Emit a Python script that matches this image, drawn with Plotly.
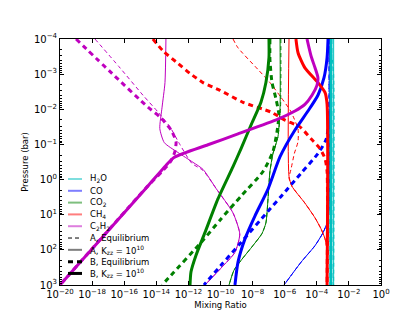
import plotly.graph_objects as go

# ---- data (log10 of mixing ratio, log10 of pressure in bar) ----
H2O_A_eq_logx = [-3.15, -3.05, -2.95, -2.95]
H2O_A_eq_logp = [-4.0, -3.5, -3.0, 3.0]
H2O_A_kzz_logx = [-2.95, -2.95]
H2O_A_kzz_logp = [-4.0, 3.0]
H2O_B_eq_logx = [-3.12, -3.12]
H2O_B_eq_logp = [-4.0, 3.0]
H2O_B_kzz_logx = [-3.12, -3.12]
H2O_B_kzz_logp = [-4.0, 3.0]

CO_A_eq_logx = [-3.20, -3.24, -3.24, -3.36, -3.61, -4.11, -4.98, -6.04]
CO_A_eq_logp = [-4.0, -2.0, 0.89, 1.23, 1.51, 1.88, 2.35, 3.0]
CO_A_kzz_logx = [-3.24, -3.24, -3.36, -3.61, -4.11, -4.98, -6.04]
CO_A_kzz_logp = [-4.0, 0.89, 1.23, 1.51, 1.88, 2.35, 3.0]
CO_B_eq_logx = [-3.18, -3.18, -3.24, -3.43, -3.93, -4.98, -6.23, -7.04, -8.72, -9.97, -11.03]
CO_B_eq_logp = [-4.0, -2.34, -1.64, -1.13, -0.74, -0.18, 0.48, 0.90, 1.79, 2.44, 3.0]
CO_B_kzz_logx = [-3.30, -3.36, -3.55, -3.93, -4.55, -5.36, -6.29, -7.04, -7.85, -8.47, -8.91, -9.10]
CO_B_kzz_logp = [-4.0, -3.47, -2.90, -2.40, -1.95, -1.41, -0.65, 0.27, 1.03, 1.68, 2.35, 3.0]

CO2_A_eq_logx = [-6.24, -6.26, -6.42, -6.73, -6.92, -7.04, -7.17, -7.42, -7.98, -8.72, -9.16, -9.47]
CO2_A_eq_logp = [-4.0, -2.06, -1.22, -0.74, -0.23, 0.55, 1.23, 1.54, 1.88, 2.30, 2.58, 3.0]
CO2_A_kzz_logx = [-6.29, -6.29, -6.42, -6.73, -6.92, -7.04, -7.17, -7.42, -7.98, -8.72, -9.16, -9.47]
CO2_A_kzz_logp = [-4.0, -2.06, -1.22, -0.74, -0.23, 0.55, 1.23, 1.54, 1.88, 2.30, 2.58, 3.0]
CO2_B_eq_logx = [-6.92, -6.92, -6.79, -6.54, -6.36, -6.48, -6.73, -7.35, -8.72, -9.97, -11.21, -13.08, -13.64]
CO2_B_eq_logp = [-4.0, -3.41, -2.76, -2.29, -1.84, -1.36, -0.80, -0.23, 0.47, 1.12, 1.79, 2.72, 3.0]
CO2_B_kzz_logx = [-6.98, -6.98, -7.17, -7.48, -8.10, -8.72, -9.22, -10.16, -10.97, -11.53, -11.84, -11.90]
CO2_B_kzz_logp = [-4.0, -3.47, -2.76, -2.20, -1.55, -0.88, -0.37, 0.55, 1.51, 2.16, 2.63, 3.0]

CH4_A_eq_logx = [-9.22, -8.91, -7.66, -6.92, -6.23, -5.67, -5.40, -5.17, -5.17, -5.40, -5.61, -5.73,
                 -5.55, -4.74, -4.11, -3.74, -3.49, -3.36, -3.36]
CH4_A_eq_logp = [-4.0, -3.75, -3.13, -2.76, -2.34, -1.98, -1.72, -1.44, -1.08, -0.74, -0.29, -0.05,
                 0.19, 0.67, 1.09, 1.40, 1.68, 2.02, 3.0]
CH4_A_kzz_logx = [-5.73, -5.73, -5.55, -4.74, -4.11, -3.74, -3.49, -3.36, -3.36]
CH4_A_kzz_logp = [-4.0, -0.09, 0.19, 0.67, 1.09, 1.40, 1.68, 2.02, 3.0]
CH4_B_eq_logx = [-14.21, -13.58, -12.77, -11.90, -11.09, -10.03, -8.60, -6.85, -5.98, -5.05, -4.36, -3.80,
                 -3.49, -3.36, -3.36]
CH4_B_eq_logp = [-4.0, -3.66, -3.35, -3.02, -2.76, -2.54, -2.20, -1.92, -1.69, -1.50, -1.16, -0.88,
                 -0.60, -0.23, 3.0]
CH4_B_kzz_logx = [-5.30, -5.17, -4.74, -3.93, -3.49, -3.36, -3.36]
CH4_B_kzz_logp = [-4.0, -3.61, -3.18, -2.76, -2.48, -2.14, 3.0]

C2H2_A_eq_logx = [-17.82, -16.32, -14.83, -13.89, -13.15, -12.52, -11.78, -11.09, -10.28, -9.22, -8.80,
                  -9.10, -9.97, -10.97]
C2H2_A_eq_logp = [-4.0, -3.21, -2.40, -1.92, -1.50, -0.99, -0.46, -0.26, 0.25, 0.95, 1.55, 2.07, 2.52, 3.0]
C2H2_A_kzz_logx = [-13.40, -13.46, -13.64, -13.78, -13.50, -12.65, -11.71, -11.09, -10.28, -9.22,
                   -8.80, -9.10, -9.97, -10.97]
C2H2_A_kzz_logp = [-4.0, -2.76, -2.06, -1.45, -1.05, -0.77, -0.49, -0.29, 0.25, 0.95, 1.55, 2.07,
                   2.52, 3.0]
C2H2_B_eq_logx = [-19.0, -16.76, -14.52, -13.77, -13.08, -12.77, -12.85, -13.10, -13.60, -14.52, -20.0]
C2H2_B_eq_logp = [-4.0, -3.02, -2.06, -1.78, -1.41, -1.08, -0.78, -0.52, -0.25, 0.18, 3.0]
C2H2_B_kzz_logx = [-20.0, -14.52, -13.40, -12.90, -10.78, -8.91, -6.42, -5.36, -4.74, -4.30, -3.99, -3.93,
                   -4.11, -4.36, -4.61]
C2H2_B_kzz_logp = [3.0, 0.18, -0.40, -0.63, -0.99, -1.30, -1.72, -1.95, -2.14, -2.40, -2.68, -2.90,
                   -3.18, -3.52, -4.0]

species = ["H2O", "CO", "CO2", "CH4", "C2H2"]
species_labels = ["H<sub>2</sub>O", "CO", "CO<sub>2</sub>", "CH<sub>4</sub>", "C<sub>2</sub>H<sub>2</sub>"]
species_colors = ["rgb(0,191,191)", "rgb(0,0,255)", "rgb(0,128,0)", "rgb(255,0,0)", "rgb(191,0,191)"]
cases = ["A_eq", "A_kzz", "B_eq", "B_kzz"]
case_labels = ["A, Equilibrium", "A, K<sub>zz</sub> = 10<sup>10</sup>",
               "B, Equilibrium", "B, K<sub>zz</sub> = 10<sup>10</sup>"]
case_width = {"A_eq": 1.0, "A_kzz": 1.0, "B_eq": 3.0, "B_kzz": 3.0}
case_dash = {"A_eq": "4px,3px", "A_kzz": "solid", "B_eq": "5px,4px", "B_kzz": "solid"}

x_tick_exponents = list(range(-20, 1, 2))
y_tick_exponents = list(range(-4, 4))

data = globals()

fig = go.Figure()
for case in cases:
    for sp, col in zip(species, species_colors):
        lx = data[f"{sp}_{case}_logx"]
        lp = data[f"{sp}_{case}_logp"]
        fig.add_trace(go.Scatter(
            x=[10 ** v for v in lx], y=[10 ** v for v in lp], mode="lines",
            line=dict(color=col, width=case_width[case], dash=case_dash[case],
                      shape="spline", smoothing=0.6),
            showlegend=False, hoverinfo="skip"))

def sup_label(e):
    return "10<sup>" + ("\u2212" if e < 0 else "") + str(abs(e)) + "</sup>"

axis_common = dict(type="log", showgrid=False, zeroline=False, showline=True, linecolor="black",
                   linewidth=1, mirror="allticks", ticks="inside", ticklen=4, tickcolor="black",
                   tickfont=dict(size=10, family="DejaVu Sans", color="black"))

fig.update_xaxes(**axis_common, range=[-20, 0], tickmode="array",
                 tickvals=[10.0 ** e for e in x_tick_exponents],
                 ticktext=[sup_label(e) for e in x_tick_exponents],
                 title=dict(text="Mixing Ratio", standoff=2, font=dict(size=8.5)))
fig.update_yaxes(**axis_common, range=[3, -4], tickmode="array",
                 tickvals=[10.0 ** e for e in y_tick_exponents],
                 ticktext=[sup_label(e) for e in y_tick_exponents],
                 minor=dict(ticks="inside", ticklen=2, tickcolor="black", showgrid=False,
                            tickmode="array",
                            tickvals=[k * 10.0 ** e for e in range(-4, 3) for k in range(2, 10)]),
                 title=dict(text="Pressure (bar)", standoff=3, font=dict(size=8.5)))

# manual legend (lower left, inside axes, no frame)
L, R, T, B = 52, 373, 31, 280
def px_to_paper(px, py):
    return (px - L) / (R - L), (B - py) / (B - T)

legend_rows = 172.7
row_gap = 11.95
entries = []
for lab, col in zip(species_labels, species_colors):
    entries.append((lab, dict(color=col, width=2, dash="solid"), 0.5))
entries.append((case_labels[0], dict(color="black", width=1, dash="4px,3px"), 1.0))
entries.append((case_labels[1], dict(color="black", width=2, dash="solid"), 0.5))
entries.append((case_labels[2], dict(color="black", width=3, dash="5px,4px"), 1.0))
entries.append((case_labels[3], dict(color="black", width=3, dash="solid"), 1.0))

for i, (lab, ln, op) in enumerate(entries):
    py = legend_rows + i * row_gap
    x0, y0 = px_to_paper(60, py)
    x1, _ = px_to_paper(74, py)
    xt, _ = px_to_paper(80, py)
    fig.add_shape(type="line", xref="paper", yref="paper", x0=x0, x1=x1, y0=y0, y1=y0,
                  line=ln, opacity=op)
    fig.add_annotation(xref="paper", yref="paper", x=xt, y=y0, text=lab, showarrow=False,
                       xanchor="left", yanchor="middle", font=dict(size=8.5, color="black"))

fig.update_layout(width=415, height=312, margin=dict(l=L, r=415 - R, t=T, b=312 - B),
                  plot_bgcolor="white", paper_bgcolor="white", showlegend=False,
                  font=dict(family="DejaVu Sans", size=8.5, color="black"))
fig.write_html("out.html")
